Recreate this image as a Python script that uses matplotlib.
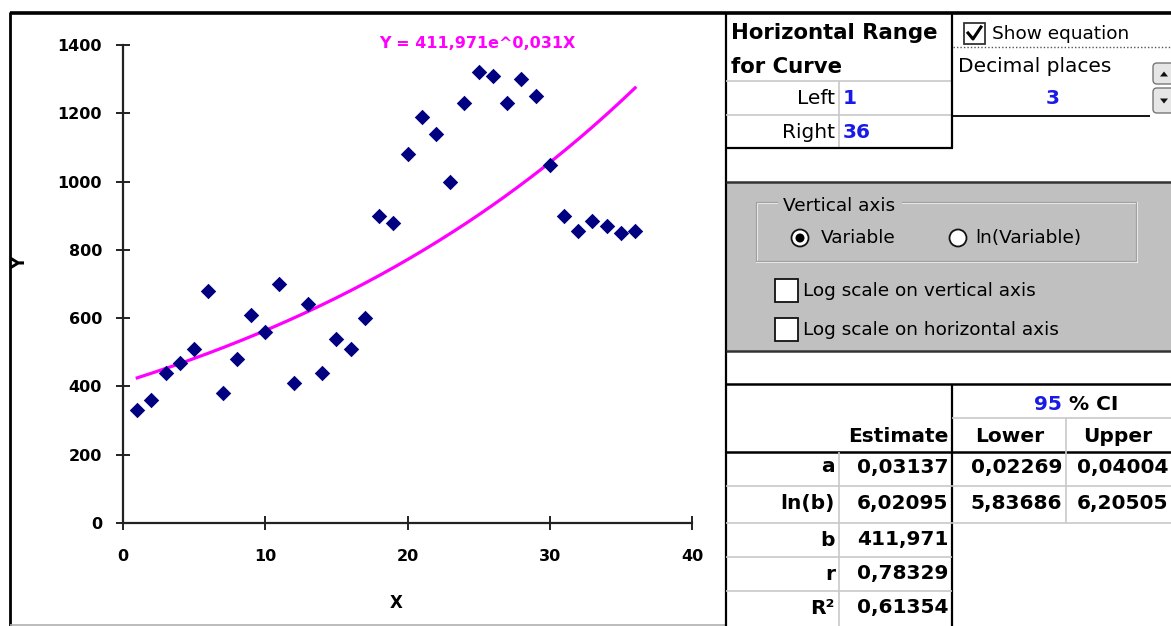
import numpy as np
import matplotlib
matplotlib.use("Agg")
import matplotlib.pyplot as plt
from matplotlib.patches import Rectangle, Circle, FancyBboxPatch, Polygon

# data
x_vals = list(range(1, 37))
y_vals = [330, 360, 440, 470, 510, 680, 380, 480, 610, 560, 700, 410,
          640, 440, 540, 510, 600, 900, 880, 1080, 1190, 1140, 1000, 1230,
          1320, 1310, 1230, 1300, 1250, 1050, 900, 855, 885, 870, 850, 855]

# fitted model Y = b * e^(a X)
fit_a = 0.03137
fit_b = 411.971
curve_left, curve_right = 1, 36
decimal_places = 3

row_labels = ["a", "ln(b)", "b", "r", "R²"]
estimates = ["0,03137", "6,02095", "411,971", "0,78329", "0,61354"]
lower_ci = ["0,02269", "5,83686"]
upper_ci = ["0,04004", "6,20505"]
ci_level = 95

W, H = 1171, 626
fig = plt.figure(figsize=(W / 100, H / 100), dpi=100)
fig.patch.set_facecolor("white")

FONT = "DejaVu Sans"
UI = "DejaVu Sans"


def px_axes(x0, y0, x1, y1):
    # axes rectangle given in pixel coords (top-left origin)
    return [x0 / W, 1 - y1 / H, (x1 - x0) / W, (y1 - y0) / H]


# ---- chart ----
ax = fig.add_axes(px_axes(123, 45, 692, 523))
ax.scatter(x_vals, y_vals, marker="D", s=62, color="#000080", zorder=3, linewidths=0)
xs = np.linspace(curve_left, curve_right, 200)
ax.plot(xs, fit_b * np.exp(fit_a * xs), color="#FF00FF", lw=2.3, zorder=2)
ax.set_xlim(0, 40)
ax.set_ylim(0, 1400)
ax.set_xticks([0, 10, 20, 30, 40])
ax.set_yticks(range(0, 1401, 200))
for s in ["top", "right"]:
    ax.spines[s].set_visible(False)
for s in ["left", "bottom"]:
    ax.spines[s].set_linewidth(1.6)
    ax.spines[s].set_color("#222222")
ax.tick_params(direction="inout", length=9.5, width=1.4, color="#222222",
               labelsize=11.5)
ax.tick_params(axis="x", pad=14)
ax.tick_params(axis="y", length=10, pad=10)
for lab in ax.get_xticklabels() + ax.get_yticklabels():
    lab.set_fontfamily(FONT)
    lab.set_fontweight("bold")
ax.text(0.622, 1.004, "Y = {:.3f}e^{:.3f}X".format(fit_b, fit_a).replace(".", ","),
        transform=ax.transAxes, ha="center", va="center", color="#FF00FF",
        fontsize=11.5, fontweight="bold", family=FONT)
ax.set_ylabel("Y", fontsize=12, fontweight="bold", family=FONT, labelpad=0)
ax.yaxis.set_label_coords(-(123 - 29) / (692 - 123), 0.545)
ax.set_xlabel("X", fontsize=12, fontweight="bold", family=FONT)
ax.xaxis.set_label_coords((396 - 123) / (692 - 123), -(594 - 523) / (523 - 45))

# ---- overlay in pixel coords ----
ov = fig.add_axes([0, 0, 1, 1], zorder=-1)
ov.set_xlim(0, W)
ov.set_ylim(H, 0)
ov.axis("off")
top = fig.add_axes([0, 0, 1, 1], zorder=5)
top.set_xlim(0, W)
top.set_ylim(H, 0)
top.axis("off")
top.patch.set_alpha(0)


def hline(y, x0, x1, c="#000000", lw=1.0, a=top, ls="-"):
    a.plot([x0, x1], [y, y], color=c, lw=lw, ls=ls, solid_capstyle="butt")


def vline(x, y0, y1, c="#000000", lw=1.0, a=top):
    a.plot([x, x], [y0, y1], color=c, lw=lw, solid_capstyle="butt")


def txt(x, y, s, ha="left", size=14.5, color="#000000", bold=True, fam=FONT):
    top.text(x, y, s, ha=ha, va="center", fontsize=size, color=color,
             fontweight="bold" if bold else "normal", family=fam)


GRID = "#C8C8C8"
BLUE = "#1A1AE6"
# chart border
hline(12.5, 10, W, lw=2.6)
vline(10, 12, H, lw=2.0)
hline(625, 10, 725, c="#B0B0B0", lw=1.2)
vline(726, 12, H, lw=1.6)

# ---- horizontal range box ----
hline(81, 726, 952, c=GRID, lw=1.2)
hline(115, 726, 952, c=GRID, lw=1.2)
vline(839, 81, 148, c=GRID, lw=1.2)
hline(148, 726, 953, lw=1.6)
vline(952, 12, 148, lw=1.6)
txt(731, 33, "Horizontal Range", size=15.3)
txt(731, 67, "for Curve", size=15.3)
txt(835, 98, "Left", ha="right", bold=False)
txt(835, 132, "Right", ha="right", bold=False)
txt(843, 98, str(curve_left), color=BLUE)
txt(843, 132, str(curve_right), color=BLUE)

# show equation / decimals
top.add_patch(Rectangle((964, 23), 21, 21, fc="white", ec="#333333", lw=1.3))
top.plot([968, 973, 981], [33, 39, 27], color="#000000", lw=2.2)
txt(992, 34, "Show equation", size=13.3, bold=False, fam=UI)
hline(47, 953, W, c="#555555", lw=1.0, ls=(0, (1, 1.5)))
txt(958, 67, "Decimal places", size=14.5, bold=False)
txt(1053, 99, str(decimal_places), ha="center", color=BLUE)
hline(115.5, 952, 1150, lw=1.3)
for y0, y1, up in [(63, 84, True), (88, 113, False)]:
    top.add_patch(FancyBboxPatch((1153, y0), 22, y1 - y0,
                                 boxstyle="round,pad=0,rounding_size=4",
                                 fc="#E6E6E6", ec="#777777", lw=1.0))
    cy = (y0 + y1) / 2
    if up:
        tri = [(1160, cy + 3), (1168, cy + 3), (1164, cy - 2)]
    else:
        tri = [(1160, cy - 2), (1168, cy - 2), (1164, cy + 3)]
    top.add_patch(Polygon(tri, closed=True, fc="#111111", ec="none"))

# ---- grey options panel ----
ov.add_patch(Rectangle((726, 182), W - 726, 351 - 182, fc="#C0C0C0", ec="none"))
hline(182, 726, W, c="#333333", lw=1.8)
hline(351, 726, W, c="#333333", lw=1.8)
top.add_patch(Rectangle((757, 203), 380, 59, fc="none", ec="#F4F4F4", lw=1.4))
top.add_patch(Rectangle((756, 202), 380, 59, fc="none", ec="#A0A0A0", lw=0.9))
top.add_patch(Rectangle((778, 195), 124, 16, fc="#C0C0C0", ec="none"))
txt(783, 206, "Vertical axis", size=13.3, bold=False, fam=UI)
top.add_patch(Circle((800, 238), 8.5, fc="white", ec="#111111", lw=1.3))
top.add_patch(Circle((800, 238), 4.5, fc="#000000", ec="none"))
txt(821, 238, "Variable", size=13.3, bold=False, fam=UI)
top.add_patch(Circle((958, 238), 8.5, fc="white", ec="#111111", lw=1.3))
txt(975, 238, "ln(Variable)", size=13.3, bold=False, fam=UI)
for yy, lab in [(291, "Log scale on vertical axis"), (330, "Log scale on horizontal axis")]:
    top.add_patch(Rectangle((775, yy - 12), 23, 23, fc="white", ec="#111111", lw=1.3))
    txt(803, yy, lab, size=13.3, bold=False, fam=UI)

# ---- estimates table ----
hline(384, 726, W, lw=1.8)
hline(452, 726, W, lw=1.8)
vline(952, 384, H, lw=1.6)
hline(418, 952, W, c=GRID, lw=1.2)
vline(1066, 418, 523, c=GRID, lw=1.2)
vline(839, 452, H, c=GRID, lw=1.2)
hline(486, 726, W, c=GRID, lw=1.2)
hline(523, 726, W, c=GRID, lw=1.2)
hline(557, 726, 952, c=GRID, lw=1.2)
hline(591, 726, 952, c=GRID, lw=1.2)

top.text(1062, 404, "{}".format(ci_level), ha="right", va="center", fontsize=14.5,
         color=BLUE, family=FONT, fontweight="bold")
txt(1062, 404, " % CI")
txt(948, 437, "Estimate", ha="right")
txt(1010, 437, "Lower", ha="center")
txt(1118, 437, "Upper", ha="center")
row_y = [467, 503, 540, 574, 608]
for i, y in enumerate(row_y):
    txt(835, y, row_labels[i], ha="right")
    txt(948, y, estimates[i], ha="right")
for i, y in enumerate(row_y[:2]):
    txt(1062, y, lower_ci[i], ha="right")
    txt(1168, y, upper_ci[i], ha="right")

fig.savefig("out.png", dpi=100)
